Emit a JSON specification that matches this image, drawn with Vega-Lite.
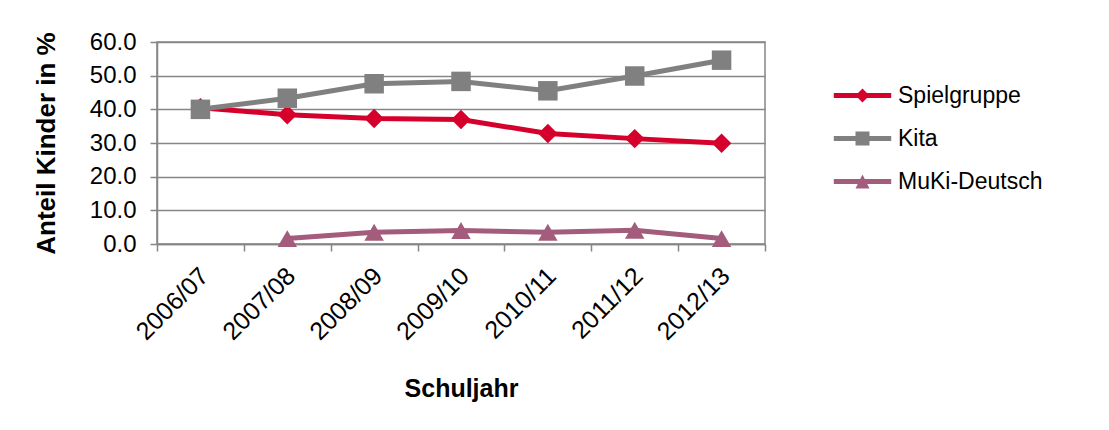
{
  "$schema": "https://vega.github.io/schema/vega-lite/v6.json",
  "width": 608,
  "height": 202,
  "autosize": {"type": "none"},
  "padding": {"left": 157, "top": 42, "right": 344, "bottom": 186},
  "background": "white",
  "config": {
    "font": "Liberation Sans",
    "view": {"stroke": "#868686", "strokeWidth": 1.5},
    "axis": {"labelFont": "Liberation Sans", "titleFont": "Liberation Sans", "labelColor": "black", "titleColor": "black"}
  },
  "data": {
    "values": [
      {"Schuljahr": "2006/07", "Serie": "Spielgruppe", "Wert": 40.5},
      {"Schuljahr": "2007/08", "Serie": "Spielgruppe", "Wert": 38.4},
      {"Schuljahr": "2008/09", "Serie": "Spielgruppe", "Wert": 37.3},
      {"Schuljahr": "2009/10", "Serie": "Spielgruppe", "Wert": 37.0},
      {"Schuljahr": "2010/11", "Serie": "Spielgruppe", "Wert": 32.8},
      {"Schuljahr": "2011/12", "Serie": "Spielgruppe", "Wert": 31.3},
      {"Schuljahr": "2012/13", "Serie": "Spielgruppe", "Wert": 29.9},
      {"Schuljahr": "2006/07", "Serie": "Kita", "Wert": 40.0},
      {"Schuljahr": "2007/08", "Serie": "Kita", "Wert": 43.3},
      {"Schuljahr": "2008/09", "Serie": "Kita", "Wert": 47.6},
      {"Schuljahr": "2009/10", "Serie": "Kita", "Wert": 48.3},
      {"Schuljahr": "2010/11", "Serie": "Kita", "Wert": 45.5},
      {"Schuljahr": "2011/12", "Serie": "Kita", "Wert": 49.9},
      {"Schuljahr": "2012/13", "Serie": "Kita", "Wert": 54.6},
      {"Schuljahr": "2007/08", "Serie": "MuKi-Deutsch", "Wert": 1.6},
      {"Schuljahr": "2008/09", "Serie": "MuKi-Deutsch", "Wert": 3.5},
      {"Schuljahr": "2009/10", "Serie": "MuKi-Deutsch", "Wert": 4.0},
      {"Schuljahr": "2010/11", "Serie": "MuKi-Deutsch", "Wert": 3.5},
      {"Schuljahr": "2011/12", "Serie": "MuKi-Deutsch", "Wert": 4.1},
      {"Schuljahr": "2012/13", "Serie": "MuKi-Deutsch", "Wert": 1.6}
    ]
  },
  "encoding": {
    "x": {
      "field": "Schuljahr",
      "type": "ordinal",
      "sort": null,
      "bandPosition": 0.5,
      "scale": {"type": "band", "paddingInner": 0, "paddingOuter": 0},
      "axis": {
        "title": "Schuljahr",
        "titleFontSize": 25,
        "titleFontWeight": "bold",
        "titlePadding": 32,
        "labelAngle": -45,
        "labelFontSize": 25,
        "labelPadding": 12,
        "labelOffset": -5,
        "tickBand": "extent",
        "tickSize": 7,
        "tickColor": "#868686",
        "tickWidth": 1.5,
        "domainColor": "#868686",
        "domainWidth": 1.5,
        "grid": false
      }
    },
    "y": {
      "field": "Wert",
      "type": "quantitative",
      "scale": {"domain": [0, 60], "nice": false},
      "axis": {
        "title": "Anteil  Kinder in %",
        "titleFontSize": 26,
        "titleFontWeight": "bold",
        "titlePadding": 30,
        "values": [0, 10, 20, 30, 40, 50, 60],
        "format": ".1f",
        "labelFontSize": 24,
        "labelPadding": 14,
        "tickSize": 7,
        "tickColor": "#868686",
        "tickWidth": 1.5,
        "domainColor": "#868686",
        "domainWidth": 1.5,
        "grid": true,
        "gridColor": "#868686",
        "gridWidth": 1.5
      }
    }
  },
  "layer": [
    {
      "mark": {"type": "line", "strokeWidth": 5},
      "encoding": {
        "color": {
          "field": "Serie",
          "type": "nominal",
          "scale": {"domain": ["Spielgruppe", "Kita", "MuKi-Deutsch"], "range": ["#D6002C", "#808080", "#A35C7C"]},
          "legend": null
        }
      }
    },
    {
      "mark": {"type": "point", "filled": true, "opacity": 1},
      "encoding": {
        "color": {
          "field": "Serie",
          "type": "nominal",
          "scale": {"domain": ["Spielgruppe", "Kita", "MuKi-Deutsch"], "range": ["#D6002C", "#808080", "#A35C7C"]},
          "legend": null
        },
        "shape": {
          "field": "Serie",
          "type": "nominal",
          "scale": {"domain": ["Spielgruppe", "Kita", "MuKi-Deutsch"], "range": ["diamond", "square", "triangle-up"]},
          "legend": null
        },
        "size": {"value": 380}
      }
    },
    {
      "mark": {"type": "point", "filled": true, "opacity": 0, "fill": {"expr": "scale('color', datum.value)"}},
      "encoding": {
        "shape": {
          "field": "Serie",
          "type": "nominal",
          "scale": {
            "domain": ["Spielgruppe", "Kita", "MuKi-Deutsch"],
            "range": [
              "M-4.1,-0.36H-0.64L0,-1L0.64,-0.36H4.1V0.36H0.64L0,1L-0.64,0.36H-4.1Z",
              "M-4.1,-0.36H-1V-1H1V-0.36H4.1V0.36H1V1H-1V0.36H-4.1Z",
              "M-4.1,-0.36H-0.32L0,-1L0.32,-0.36H4.1V0.36H0.68L1,1H-1L-0.68,0.36H-4.1Z"
            ]
          },
          "legend": {
            "title": null,
            "orient": "right",
            "offset": 44,
            "padding": 42,
            "labelFontSize": 23,
            "labelFont": "Liberation Sans",
            "labelColor": "black",
            "symbolSize": 196,
            "labelOffset": 24,
            "rowPadding": 19,
            "symbolStrokeWidth": 0,
            "symbolOpacity": 1
          }
        }
      }
    }
  ],
  "resolve": {"scale": {"shape": "independent"}}
}
